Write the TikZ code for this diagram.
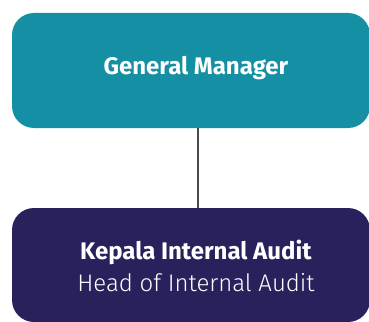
\documentclass[tikz,border=0pt]{standalone}
\usepackage{fontspec}
\setmainfont{Fira Sans}
\newfontfamily\lightfont{Fira Sans Light}
\usetikzlibrary{positioning}
\definecolor{gmteal}{HTML}{148FA3}
\definecolor{auditnavy}{HTML}{27225C}
\definecolor{linkgray}{HTML}{4A4A4A}

\begin{document}
\begin{tikzpicture}[x=1pt,y=-1pt,
  orgbox/.style={rounded corners=22pt,minimum width=358pt,inner sep=0pt},
  orgtext/.style={text=white,align=center,font=\fontsize{24}{32}\selectfont}]
\useasboundingbox (0,0) rectangle (369,321);
% boxes
\node[orgbox,fill=gmteal,minimum height=115pt] (gm) at (191,70.5) {};
\node[orgbox,fill=auditnavy,minimum height=114pt] (kia) at (191,265) {};
% texts
\node[orgtext] (gmtext) at (196,68) {\textbf{General Manager}};
\node[orgtext] (kiatext) at (196,266) {\textbf{Kepala Internal Audit}\\{\lightfont Head of Internal Audit}};
% link
\draw[linkgray,line width=2.5pt] (gm.south -| 198,0) -- (kia.north -| 198,0);
\end{tikzpicture}
\end{document}
